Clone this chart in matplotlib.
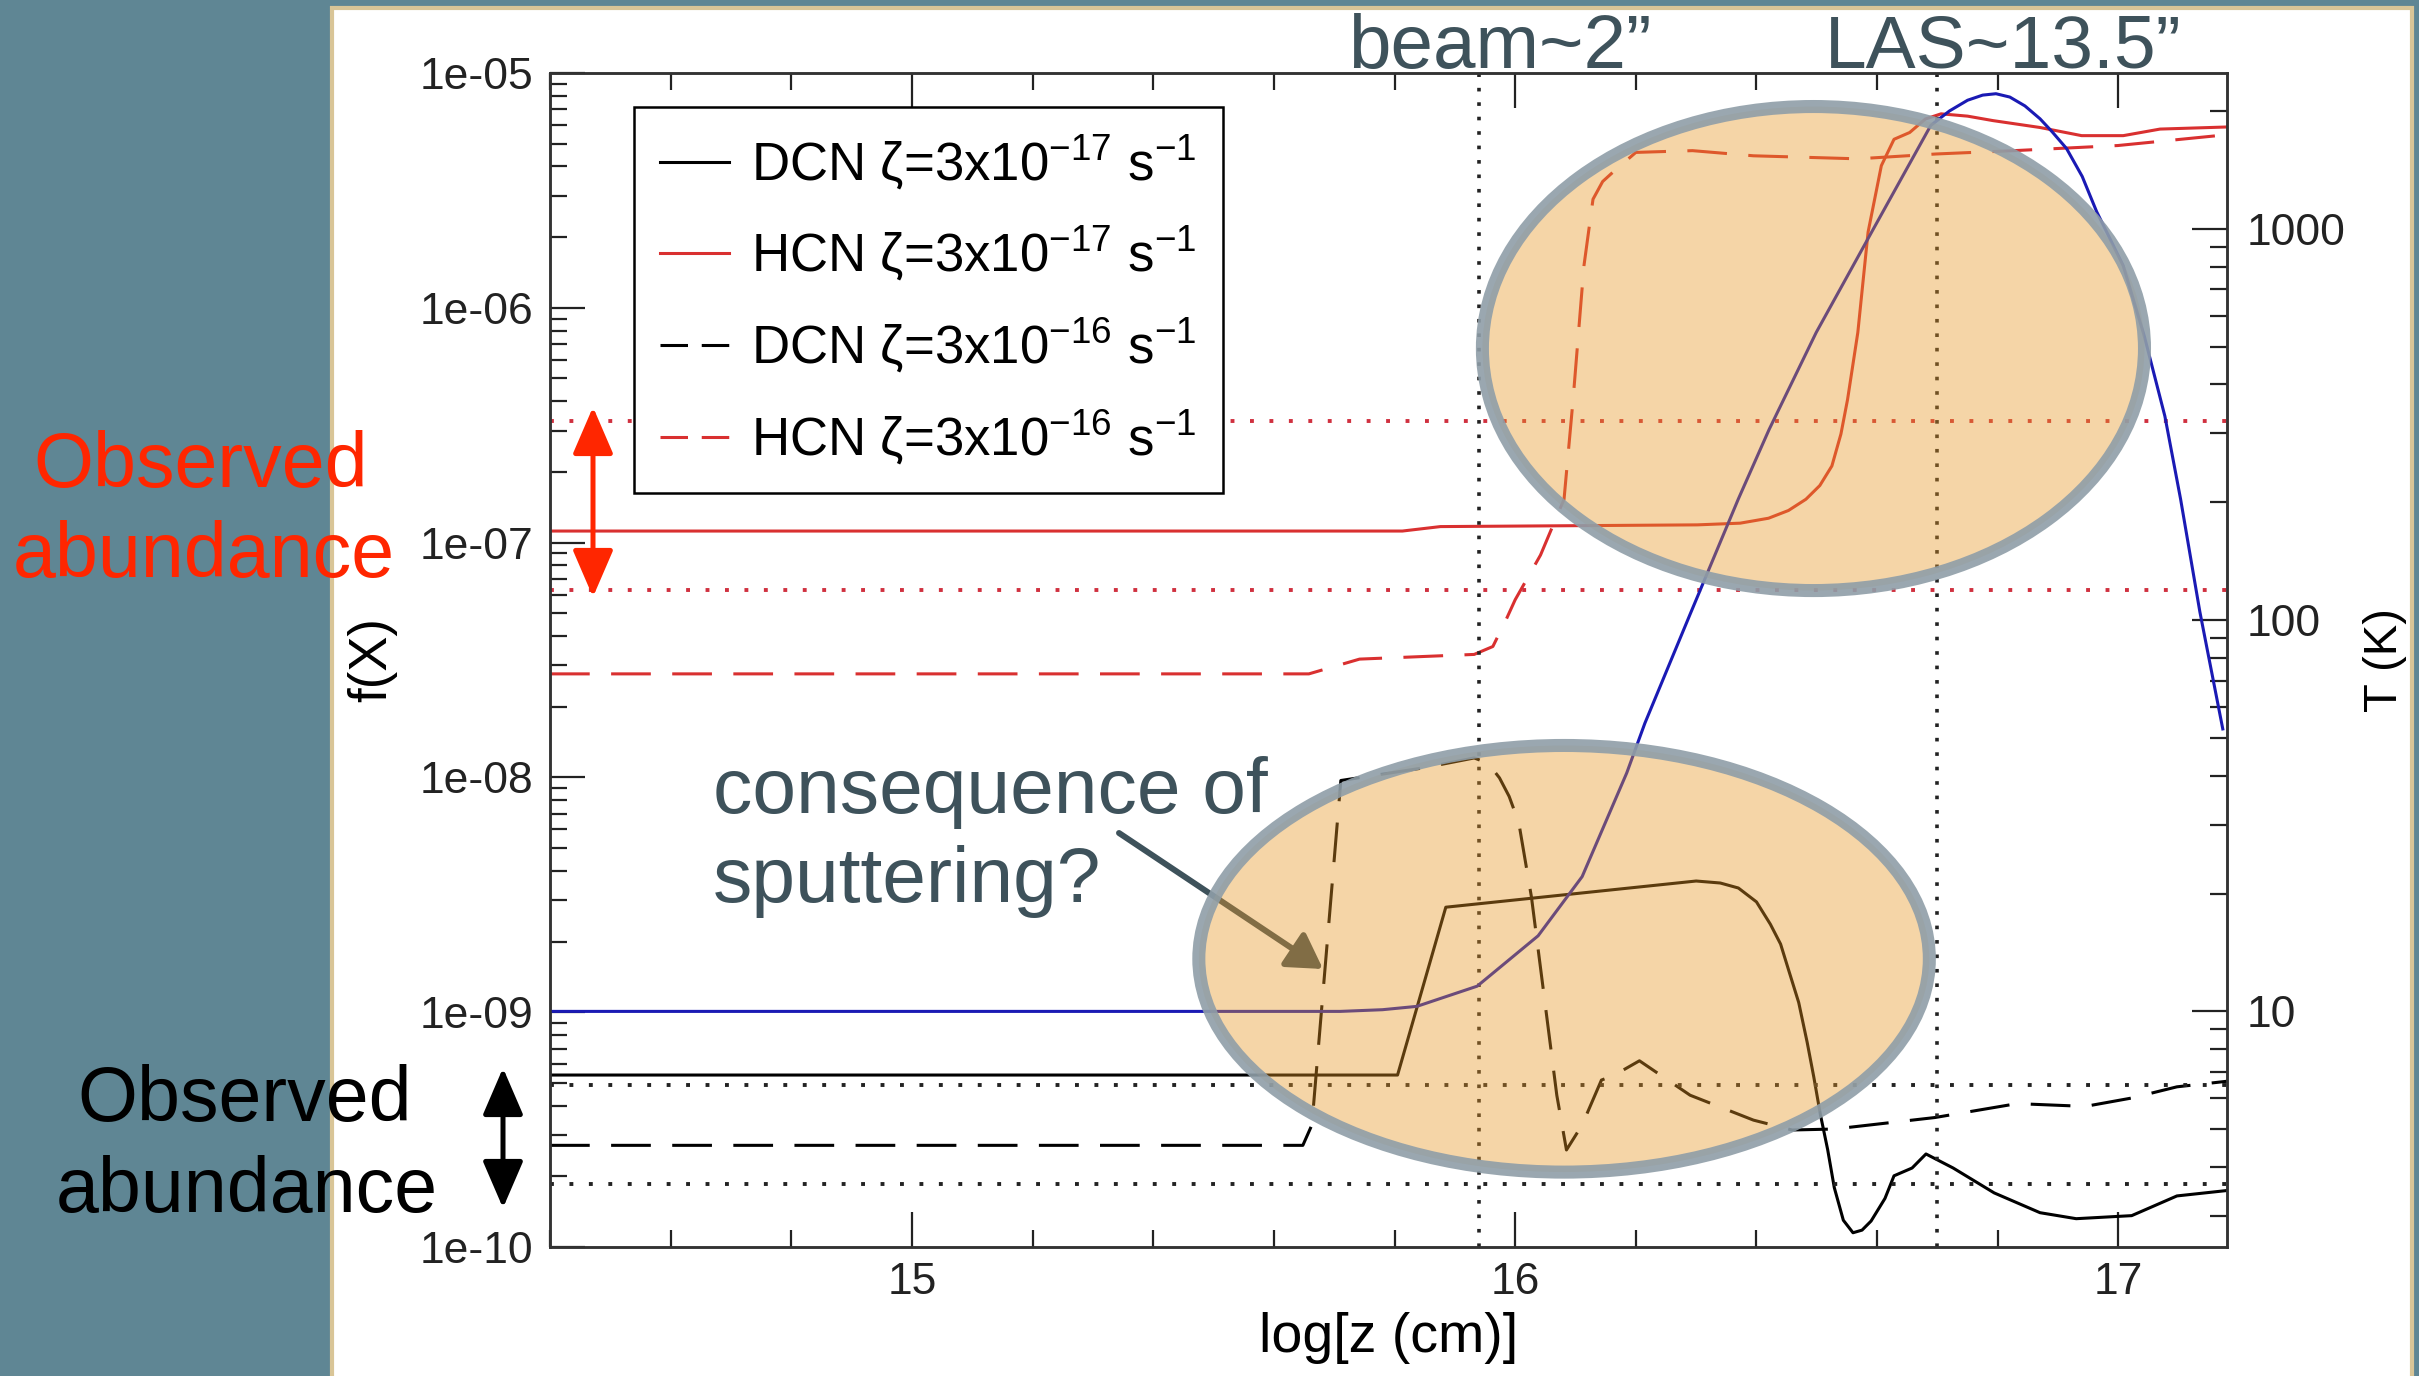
import matplotlib
matplotlib.use('Agg')
import matplotlib.pyplot as plt
from matplotlib.patches import Ellipse, Rectangle, FancyArrowPatch
from matplotlib.ticker import FixedLocator, MultipleLocator, FuncFormatter, NullFormatter

plt.rcParams['font.family'] = ['Liberation Sans', 'DejaVu Sans']
plt.rcParams['mathtext.fontset'] = 'custom'
plt.rcParams['mathtext.rm'] = 'Liberation Sans'
plt.rcParams['mathtext.it'] = 'Liberation Sans:italic'
plt.rcParams['mathtext.bf'] = 'Liberation Sans:bold'

# --- data ---
# DCN, zeta = 3e-17 s^-1 (solid black)
dcn17_x = [14.40, 15.805, 15.885, 16.30, 16.34, 16.37, 16.40, 16.423, 16.44, 16.453, 16.47,
           16.484, 16.495, 16.506, 16.518, 16.529, 16.544, 16.560, 16.575, 16.590, 16.613,
           16.628, 16.658, 16.681, 16.726, 16.794, 16.870, 16.930, 17.022, 17.097, 17.18]
dcn17_y = [5.4e-10, 5.4e-10, 2.8e-9, 3.62e-9, 3.55e-9, 3.38e-9, 2.95e-9, 2.37e-9, 1.95e-9, 1.52e-9, 1.1e-9,
           7.45e-10, 5.3e-10, 3.66e-10, 2.6e-10, 1.79e-10, 1.3e-10, 1.15e-10, 1.18e-10, 1.29e-10, 1.61e-10,
           2.01e-10, 2.17e-10, 2.49e-10, 2.17e-10, 1.70e-10, 1.40e-10, 1.32e-10, 1.36e-10, 1.65e-10, 1.74e-10]

# HCN, zeta = 3e-17 s^-1 (solid red)
hcn17_x = [14.40, 15.813, 15.876, 16.302, 16.373, 16.42, 16.453, 16.482, 16.505, 16.525, 16.540,
           16.551, 16.568, 16.585, 16.607, 16.628, 16.654, 16.680, 16.706, 16.750, 16.792,
           16.870, 16.939, 17.008, 17.069, 17.18]
hcn17_y = [1.12e-7, 1.12e-7, 1.17e-7, 1.19e-7, 1.21e-7, 1.27e-7, 1.37e-7, 1.53e-7, 1.75e-7, 2.12e-7, 2.9e-7,
           4.07e-7, 7.85e-7, 2.10e-6, 4.03e-6, 5.22e-6, 5.58e-6, 6.37e-6, 6.70e-6, 6.55e-6, 6.27e-6,
           5.86e-6, 5.41e-6, 5.41e-6, 5.77e-6, 5.89e-6]

# DCN, zeta = 3e-16 s^-1 (dashed black)
dcn16_x = [14.40, 15.648, 15.663, 15.674, 15.711, 15.85, 15.932, 15.955, 15.974, 15.99, 16.006, 16.027,
           16.048, 16.069, 16.085, 16.111, 16.143, 16.163, 16.206, 16.290, 16.395, 16.459, 16.529,
           16.696, 16.832, 16.945, 17.022, 17.097, 17.18]
dcn16_y = [2.71e-10, 2.71e-10, 3.31e-10, 7.19e-10, 9.7e-9, 1.1e-8, 1.21e-8, 1.15e-8, 9.95e-9, 8.3e-9, 6.41e-9, 3.09e-9,
           1.17e-9, 4.43e-10, 2.59e-10, 3.31e-10, 5.14e-10, 5.37e-10, 6.21e-10, 4.43e-10, 3.47e-10, 3.15e-10, 3.18e-10,
           3.56e-10, 4.08e-10, 3.97e-10, 4.31e-10, 4.81e-10, 5.08e-10]

# HCN, zeta = 3e-16 s^-1 (dashed red)
hcn16_x = [14.40, 15.658, 15.742, 15.932, 15.963, 15.985, 16.000, 16.042, 16.081, 16.096,
           16.114, 16.129, 16.145, 16.162, 16.200, 16.294, 16.395, 16.568, 16.698, 16.827, 16.999, 17.18]
hcn16_y = [2.76e-8, 2.76e-8, 3.19e-8, 3.34e-8, 3.61e-8, 4.70e-8, 5.71e-8, 8.85e-8, 1.53e-7, 4.07e-7,
           1.51e-6, 2.90e-6, 3.45e-6, 3.78e-6, 4.59e-6, 4.67e-6, 4.44e-6, 4.31e-6, 4.52e-6, 4.67e-6, 4.91e-6, 5.46e-6]

# temperature profile (blue, right axis)
temp_x = [14.40, 15.71, 15.78, 15.837, 15.937, 16.038, 16.111, 16.185, 16.215, 16.290, 16.370,
          16.421, 16.499, 16.594, 16.689, 16.72, 16.75, 16.775, 16.797, 16.82, 16.845, 16.870,
          16.89, 16.914, 16.94, 16.964, 16.985, 17.008, 17.043, 17.077, 17.103, 17.135, 17.173]
temp_y = [10.0, 10.0, 10.1, 10.3, 11.6, 15.6, 22.1, 40.7, 54.5, 103.5, 204,
          307, 543, 1000, 1837, 2000, 2130, 2195, 2213, 2170, 2060, 1910,
          1770, 1603, 1360, 1105, 950, 804, 531, 332, 204, 105, 52.7]

obs_hcn = [3.3e-7, 6.3e-8]
obs_dcn = [4.9e-10, 1.85e-10]
beam_x = 15.94
las_x = 16.70

labels = ['DCN ζ=3x10$^{-17}$ s$^{-1}$', 'HCN ζ=3x10$^{-17}$ s$^{-1}$',
          'DCN ζ=3x10$^{-16}$ s$^{-1}$', 'HCN ζ=3x10$^{-16}$ s$^{-1}$']

# --- layout helpers (pixel positions in the 2419x1376 slide) ---
W, H = 2419, 1376
def fx(px):
    return px / W
def fy(py):
    return 1 - py / H

slate = '#3E525B'
red = '#D93030'
blue = '#1A1AB4'
obs_red = '#FF2600'

fig = plt.figure(figsize=(24.19, 13.76), dpi=100, facecolor='#5F8694')
fig.add_artist(Rectangle((fx(332), -0.01), fx(2412) - fx(332), fy(8) + 0.01,
                         transform=fig.transFigure, facecolor='white',
                         edgecolor='#D9C597', lw=3, zorder=-1))

ax = fig.add_axes([fx(550), fy(1247), fx(2227) - fx(550), fy(73) - fy(1247)])
ax2 = ax.twinx()

l1, = ax.plot(dcn17_x, dcn17_y, color='black', lw=2.2)
l2, = ax.plot(hcn17_x, hcn17_y, color=red, lw=2.2)
l3, = ax.plot(dcn16_x, dcn16_y, color='black', lw=2.2, dashes=(13, 7))
l4, = ax.plot(hcn16_x, hcn16_y, color=red, lw=2.2, dashes=(13, 7))

for v in obs_hcn:
    ax.axhline(v, color='#D0303F', lw=2.8, linestyle=(0, (1, 4)))
for v in obs_dcn:
    ax.axhline(v, color='#222222', lw=2.8, linestyle=(0, (1, 4)))
for v in [beam_x, las_x]:
    ax.axvline(v, color='#222222', lw=2.6, linestyle=(0, (1, 3)))

ax2.plot(temp_x, temp_y, color=blue, lw=2.2, zorder=2)

ax.set_yscale('log')
ax.set_ylim(1e-10, 1e-5)
ax.set_xlim(14.4, 17.18)
ax2.set_yscale('log')
ax2.set_ylim(2.5, 2500)

ax.xaxis.set_major_locator(FixedLocator([15, 16, 17]))
ax.xaxis.set_minor_locator(MultipleLocator(0.2))
ax.yaxis.set_major_formatter(FuncFormatter(lambda v, p: '%.0e' % v))
ax.yaxis.set_minor_formatter(NullFormatter())
ax2.yaxis.set_major_formatter(FuncFormatter(lambda v, p: '%g' % v))
ax2.yaxis.set_minor_formatter(NullFormatter())

ax.tick_params(which='both', direction='in', top=True, right=False, width=1.6, colors='#222222')
ax.tick_params(which='major', length=25)
ax.tick_params(which='minor', length=12)
ax.tick_params(axis='x', which='major', labelsize=32, pad=11)
ax.tick_params(axis='y', which='major', labelsize=32, pad=12)
ax2.tick_params(which='both', direction='in', left=False, width=1.6, colors='#222222')
ax2.tick_params(which='major', length=25, labelsize=32, pad=14)
ax2.tick_params(which='minor', length=12)
for a in (ax, ax2):
    for s in a.spines.values():
        s.set_linewidth(1.8)
        s.set_color('#333333')

ax.set_xlabel('log[z (cm)]', fontsize=40)
ax.xaxis.set_label_coords(0.5, -(1352 - 1247) / 1174)
ax.xaxis.label.set_va('baseline')
ax.set_ylabel('f(X)', fontsize=38)
ax.yaxis.set_label_coords((372 - 550) / 1677, 0.5)
ax.yaxis.label.set_va('center')
ax2.set_ylabel('T (K)', fontsize=34)
ax2.yaxis.set_label_coords((2385 - 550) / 1677, 0.5)
ax2.yaxis.label.set_va('center')

leg = ax.legend([l1, l2, l3, l4], labels, loc='upper left',
                bbox_to_anchor=((634 - 550) / 1677, (1247 - 107) / 1174),
                borderaxespad=0, fontsize=38, fancybox=False, framealpha=1,
                edgecolor='black', handlelength=1.3, handletextpad=0.42,
                labelspacing=0.62, borderpad=0.5)
leg.get_frame().set_linewidth(1.8)
for ln in leg.get_lines()[2:]:
    ln.set_dashes([9, 4.5])

# highlighted regions
fill = (0.902, 0.588, 0.145, 0.4)
edge = (0.56, 0.62, 0.66, 0.9)
for c, w, h in [((0.7534, 0.7653), 0.3948, 0.4123), ((0.6047, 0.2455), 0.4356, 0.3634)]:
    ax2.add_artist(Ellipse(c, w, h, transform=ax2.transAxes, facecolor=fill,
                           edgecolor=edge, lw=9.4, clip_on=False, zorder=5))

ax2.add_artist(FancyArrowPatch((fx(1119), fy(833)), (fx(1323), fy(969)),
                               transform=fig.transFigure, arrowstyle='-|>,head_length=0.42,head_width=0.25',
                               mutation_scale=50, lw=4.3, color=slate, shrinkA=0, shrinkB=0,
                               clip_on=False, zorder=3))

# annotations
fig.text(fx(1348), fy(68), 'beam~2”', fontsize=55, color=slate, ha='left', va='baseline')
fig.text(fx(1825), fy(68), 'LAS~13.5”', fontsize=54, color=slate, ha='left', va='baseline')
fig.text(fx(713), fy(813), 'consequence of', fontsize=56.5, color=slate, ha='left', va='baseline')
fig.text(fx(713), fy(902), 'sputtering?', fontsize=56.5, color=slate, ha='left', va='baseline')

fig.text(fx(201), fy(487), 'Observed', fontsize=55.5, color=obs_red, ha='center', va='baseline')
fig.text(fx(204), fy(577), 'abundance', fontsize=55.5, color=obs_red, ha='center', va='baseline')
fig.text(fx(245), fy(1121), 'Observed', fontsize=55.5, color='black', ha='center', va='baseline')
fig.text(fx(247), fy(1212), 'abundance', fontsize=55.5, color='black', ha='center', va='baseline')

for x, y0, y1, col in [(593, 407, 597, obs_red), (503, 1068, 1208, 'black')]:
    fig.add_artist(FancyArrowPatch((fx(x), fy(y0)), (fx(x), fy(y1)), transform=fig.transFigure,
                                   arrowstyle='<|-|>,head_length=0.58,head_width=0.25',
                                   mutation_scale=50, lw=3.6, color=col, shrinkA=0, shrinkB=0,
                                   zorder=4))

fig.savefig('out.png', dpi=100, facecolor=fig.get_facecolor())
